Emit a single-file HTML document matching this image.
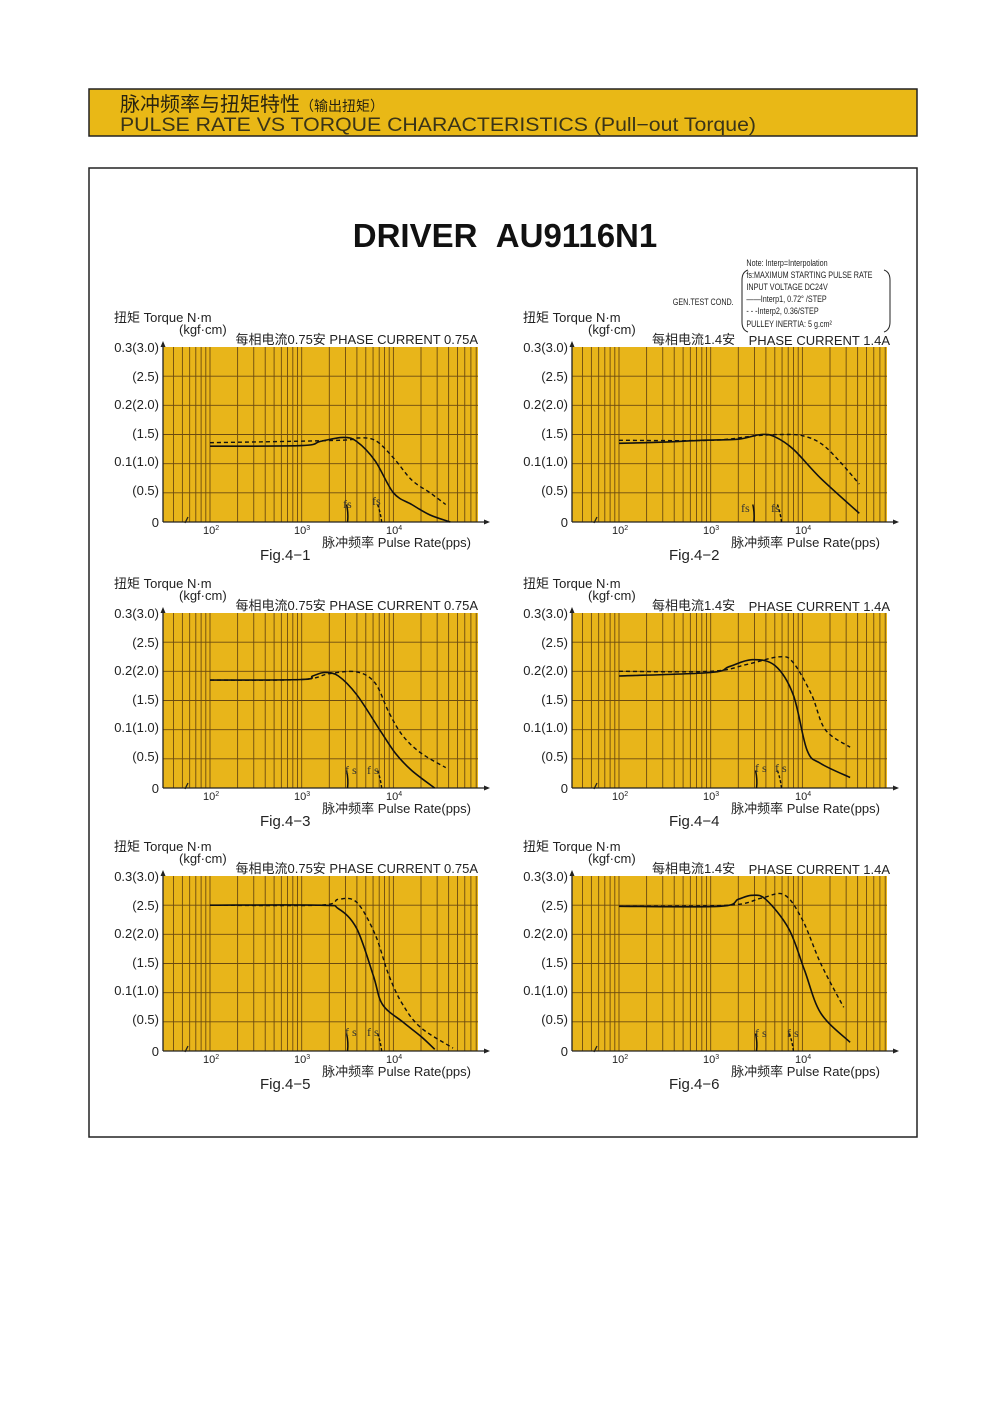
<!DOCTYPE html>
<html><head><meta charset="utf-8"><style>
html,body{margin:0;padding:0;background:#fff;}
svg{display:block;font-family:"Liberation Sans","Noto Sans CJK SC",sans-serif;}
</style></head><body>
<svg id="s" width="1000" height="1414" viewBox="0 0 1000 1414" xmlns="http://www.w3.org/2000/svg">
<rect x="89" y="89" width="828" height="47" fill="#e9b816" stroke="#222" stroke-width="1.5"/>
<text x="120" y="111" font-size="20" fill="#2a2410">脉冲频率与扭矩特性<tspan font-size="14">（输出扭矩）</tspan></text>
<text x="120" y="131" font-size="19" fill="#3a3418" textLength="636" lengthAdjust="spacingAndGlyphs">PULSE RATE VS TORQUE CHARACTERISTICS (Pull−out Torque)</text>
<rect x="89" y="168" width="828" height="969" fill="none" stroke="#222" stroke-width="1.5"/>
<text x="505" y="247" font-size="33" font-weight="bold" text-anchor="middle" fill="#111">DRIVER&#160;&#160;AU9116N1</text>
<g font-size="9" fill="#222" transform="scale(0.8,1)">
<text x="933" y="266">Note: Interp=Interpolation</text>
<text x="933" y="278">fs:MAXIMUM STARTING PULSE RATE</text>
<text x="933" y="290">INPUT VOLTAGE DC24V</text>
<text x="933" y="302">——Interp1, 0.72°  /STEP</text>
<text x="933" y="314">- - -Interp2, 0.36/STEP</text>
<text x="933" y="327">PULLEY INERTIA: 5  g.cm²</text>
<text x="841" y="305">GEN.TEST COND.</text>
</g>
<path d="M748,270 Q742,272 742,280 L742,322 Q742,330 748,332" fill="none" stroke="#222"/>
<path d="M884,270 Q890,272 890,280 L890,322 Q890,330 884,332" fill="none" stroke="#222"/>
<g id="charts"></g>
<g font-size="13" fill="#222">
<g transform="translate(0,0)">
<text x="114" y="322">扭矩 Torque N·m</text>
<text x="179" y="334">(kgf·cm)</text>
<text x="478" y="344" text-anchor="end">每相电流0.75安  PHASE CURRENT 0.75A</text>
<g text-anchor="end"><text x="159" y="352">0.3(3.0)</text><text x="159" y="381">(2.5)</text><text x="159" y="409">0.2(2.0)</text><text x="159" y="438">(1.5)</text><text x="159" y="466">0.1(1.0)</text><text x="159" y="495">(0.5)</text><text x="159" y="527">0</text></g>
<text x="203" y="534" font-size="11">10<tspan font-size="7" dy="-4">2</tspan></text><text x="294" y="534" font-size="11">10<tspan font-size="7" dy="-4">3</tspan></text><text x="386" y="534" font-size="11">10<tspan font-size="7" dy="-4">4</tspan></text>
<text x="471" y="547" text-anchor="end">脉冲频率 Pulse Rate(pps)</text>
<text x="260" y="560" font-size="15">Fig.4−1</text>
</g>
<g transform="translate(409,0)">
<text x="114" y="322">扭矩 Torque N·m</text><text x="179" y="334">(kgf·cm)</text>
<text x="243" y="344">每相电流1.4安</text><text x="481" y="345" text-anchor="end">PHASE CURRENT 1.4A</text>
<g text-anchor="end"><text x="159" y="352">0.3(3.0)</text><text x="159" y="381">(2.5)</text><text x="159" y="409">0.2(2.0)</text><text x="159" y="438">(1.5)</text><text x="159" y="466">0.1(1.0)</text><text x="159" y="495">(0.5)</text><text x="159" y="527">0</text></g>
<text x="203" y="534" font-size="11">10<tspan font-size="7" dy="-4">2</tspan></text><text x="294" y="534" font-size="11">10<tspan font-size="7" dy="-4">3</tspan></text><text x="386" y="534" font-size="11">10<tspan font-size="7" dy="-4">4</tspan></text>
<text x="471" y="547" text-anchor="end">脉冲频率 Pulse Rate(pps)</text>
<text x="260" y="560" font-size="15">Fig.4−2</text>
</g>
<g transform="translate(0,266)">
<text x="114" y="322">扭矩 Torque N·m</text><text x="179" y="334">(kgf·cm)</text>
<text x="478" y="344" text-anchor="end">每相电流0.75安  PHASE CURRENT 0.75A</text>
<g text-anchor="end"><text x="159" y="352">0.3(3.0)</text><text x="159" y="381">(2.5)</text><text x="159" y="409">0.2(2.0)</text><text x="159" y="438">(1.5)</text><text x="159" y="466">0.1(1.0)</text><text x="159" y="495">(0.5)</text><text x="159" y="527">0</text></g>
<text x="203" y="534" font-size="11">10<tspan font-size="7" dy="-4">2</tspan></text><text x="294" y="534" font-size="11">10<tspan font-size="7" dy="-4">3</tspan></text><text x="386" y="534" font-size="11">10<tspan font-size="7" dy="-4">4</tspan></text>
<text x="471" y="547" text-anchor="end">脉冲频率 Pulse Rate(pps)</text>
<text x="260" y="560" font-size="15">Fig.4−3</text>
</g>
<g transform="translate(409,266)">
<text x="114" y="322">扭矩 Torque N·m</text><text x="179" y="334">(kgf·cm)</text>
<text x="243" y="344">每相电流1.4安</text><text x="481" y="345" text-anchor="end">PHASE CURRENT 1.4A</text>
<g text-anchor="end"><text x="159" y="352">0.3(3.0)</text><text x="159" y="381">(2.5)</text><text x="159" y="409">0.2(2.0)</text><text x="159" y="438">(1.5)</text><text x="159" y="466">0.1(1.0)</text><text x="159" y="495">(0.5)</text><text x="159" y="527">0</text></g>
<text x="203" y="534" font-size="11">10<tspan font-size="7" dy="-4">2</tspan></text><text x="294" y="534" font-size="11">10<tspan font-size="7" dy="-4">3</tspan></text><text x="386" y="534" font-size="11">10<tspan font-size="7" dy="-4">4</tspan></text>
<text x="471" y="547" text-anchor="end">脉冲频率 Pulse Rate(pps)</text>
<text x="260" y="560" font-size="15">Fig.4−4</text>
</g>
<g transform="translate(0,529)">
<text x="114" y="322">扭矩 Torque N·m</text><text x="179" y="334">(kgf·cm)</text>
<text x="478" y="344" text-anchor="end">每相电流0.75安  PHASE CURRENT 0.75A</text>
<g text-anchor="end"><text x="159" y="352">0.3(3.0)</text><text x="159" y="381">(2.5)</text><text x="159" y="409">0.2(2.0)</text><text x="159" y="438">(1.5)</text><text x="159" y="466">0.1(1.0)</text><text x="159" y="495">(0.5)</text><text x="159" y="527">0</text></g>
<text x="203" y="534" font-size="11">10<tspan font-size="7" dy="-4">2</tspan></text><text x="294" y="534" font-size="11">10<tspan font-size="7" dy="-4">3</tspan></text><text x="386" y="534" font-size="11">10<tspan font-size="7" dy="-4">4</tspan></text>
<text x="471" y="547" text-anchor="end">脉冲频率 Pulse Rate(pps)</text>
<text x="260" y="560" font-size="15">Fig.4−5</text>
</g>
<g transform="translate(409,529)">
<text x="114" y="322">扭矩 Torque N·m</text><text x="179" y="334">(kgf·cm)</text>
<text x="243" y="344">每相电流1.4安</text><text x="481" y="345" text-anchor="end">PHASE CURRENT 1.4A</text>
<g text-anchor="end"><text x="159" y="352">0.3(3.0)</text><text x="159" y="381">(2.5)</text><text x="159" y="409">0.2(2.0)</text><text x="159" y="438">(1.5)</text><text x="159" y="466">0.1(1.0)</text><text x="159" y="495">(0.5)</text><text x="159" y="527">0</text></g>
<text x="203" y="534" font-size="11">10<tspan font-size="7" dy="-4">2</tspan></text><text x="294" y="534" font-size="11">10<tspan font-size="7" dy="-4">3</tspan></text><text x="386" y="534" font-size="11">10<tspan font-size="7" dy="-4">4</tspan></text>
<text x="471" y="547" text-anchor="end">脉冲频率 Pulse Rate(pps)</text>
<text x="260" y="560" font-size="15">Fig.4−6</text>
</g>
</g>
<g font-size="12" fill="#333" font-family="Liberation Serif, serif">
<text x="343" y="508">fs</text><text x="372" y="505">fs</text>
<text x="741" y="512">fs</text><text x="771" y="512">fs</text>
<text x="345" y="774">f s</text><text x="367" y="774">f s</text>
<text x="755" y="772">f s</text><text x="775" y="772">f s</text>
<text x="345" y="1036">f s</text><text x="367" y="1036">f s</text>
<text x="755" y="1037">f s</text><text x="787" y="1037">f s</text>
</g>
</svg>
<script>
(function(){
var NS="http://www.w3.org/2000/svg",g=document.getElementById("charts");
function el(n,a){var e=document.createElementNS(NS,n);for(var k in a)e.setAttribute(k,a[k]);g.appendChild(e);return e;}
var charts=[
{ox:0,oy:0,fs:[3.5,3.85],
s:[[2,1.3],[3,1.31],[3.2,1.38],[3.45,1.45],[3.6,1.38],[3.8,1.05],[4,0.5],[4.2,0.3],[4.4,0.12],[4.62,0]],
d:[[2,1.36],[3.4,1.4],[3.6,1.44],[3.8,1.4],[4,1.1],[4.2,0.72],[4.4,0.5],[4.57,0.3]]},
{ox:409,oy:0,fs:[3.47,3.75],
s:[[2,1.35],[2.5,1.37],[2.9,1.4],[3.3,1.42],[3.55,1.5],[3.7,1.46],[3.9,1.25],[4.2,0.75],[4.62,0.15]],
d:[[2,1.4],[3,1.4],[3.5,1.48],[3.8,1.5],[4,1.48],[4.2,1.35],[4.4,1.05],[4.62,0.65]]},
{ox:0,oy:266,fs:[3.5,3.85],
s:[[2,1.85],[3,1.86],[3.12,1.92],[3.25,1.98],[3.4,1.92],[3.6,1.6],[3.85,1.0],[4.02,0.6],[4.2,0.3],[4.45,0]],
d:[[2,1.85],[3,1.86],[3.3,1.96],[3.6,1.99],[3.8,1.8],[3.95,1.3],[4.1,0.9],[4.3,0.6],[4.57,0.35]]},
{ox:409,oy:266,fs:[3.5,3.75],
s:[[2,1.92],[3,1.98],[3.2,2.08],[3.45,2.2],[3.7,2.1],[3.9,1.6],[4.05,0.65],[4.2,0.42],[4.52,0.18]],
d:[[2,2.0],[3,2.0],[3.4,2.12],[3.75,2.25],[3.9,2.15],[4.1,1.6],[4.25,1.0],[4.52,0.7]]},
{ox:0,oy:529,fs:[3.5,3.85],
s:[[2,2.5],[3.2,2.5],[3.4,2.44],[3.6,2.1],[3.78,1.3],[3.88,0.8],[4.1,0.5],[4.3,0.25],[4.45,0.03]],
d:[[2,2.5],[3.2,2.5],[3.4,2.6],[3.6,2.55],[3.8,2.0],[3.95,1.3],[4.1,0.8],[4.3,0.4],[4.65,0.05]]},
{ox:409,oy:529,fs:[3.5,3.88],
s:[[2,2.48],[3.1,2.48],[3.3,2.6],[3.45,2.67],[3.6,2.6],[3.85,2.1],[4.02,1.4],[4.2,0.65],[4.52,0.15]],
d:[[2,2.48],[3.2,2.5],[3.55,2.62],[3.8,2.68],[4.0,2.25],[4.2,1.5],[4.45,0.75]]}
];
function smooth(P){var s="M"+P[0][0].toFixed(1)+","+P[0][1].toFixed(1);
 for(var i=0;i<P.length-1;i++){var p0=P[i-1]||P[i],p1=P[i],p2=P[i+1],p3=P[i+2]||p2;
  var c1x=p1[0]+(p2[0]-p0[0])/6,c1y=p1[1]+(p2[1]-p0[1])/6,c2x=p2[0]-(p3[0]-p1[0])/6,c2y=p2[1]-(p3[1]-p1[1])/6;
  s+=" C"+c1x.toFixed(1)+","+c1y.toFixed(1)+" "+c2x.toFixed(1)+","+c2y.toFixed(1)+" "+p2[0].toFixed(1)+","+p2[1].toFixed(1);}
 return s;}
charts.forEach(function(c){
 var L=163+c.ox,R=478+c.ox,T=347+c.oy,B=522+c.oy;
 var X=function(l){return 210+c.ox+(l-2)*91.7;},Y=function(v){return B-v*(B-T)/3;};
 el("rect",{x:L,y:T,width:R-L,height:B-T,fill:"#e8b51a"});
 for(var d=1;d<=4;d++)for(var k=1;k<=9;k++){var x=X(d+Math.log10(k));if(x>L+5&&x<R)el("line",{x1:x,y1:T,x2:x,y2:B,stroke:"#6b4a10","stroke-width":0.9});}
 for(var i=1;i<6;i++){var y=Y(i*0.5);el("line",{x1:L,y1:y,x2:R,y2:y,stroke:"#6b4a10","stroke-width":0.9});}
 el("line",{x1:L,y1:B,x2:R+10,y2:B,stroke:"#222","stroke-width":1.3});
 el("path",{d:"M"+(R+12)+","+B+" l-6,-2.5 v5z",fill:"#222"});
 el("line",{x1:L,y1:B,x2:L,y2:T-4,stroke:"#222","stroke-width":1.3});
 el("path",{d:"M"+L+","+(T-6)+" l-2.5,6 h5z",fill:"#222"});
 el("line",{x1:L+22,y1:B+1,x2:L+25,y2:B-5,stroke:"#222","stroke-width":1.3});
 function pts(a){return a.map(function(p){return [X(p[0]),Y(p[1])];});}
 el("path",{d:smooth(pts(c.s)),fill:"none",stroke:"#111","stroke-width":1.6});
 el("path",{d:smooth(pts(c.d)),fill:"none",stroke:"#111","stroke-width":1.4,"stroke-dasharray":"4,3"});
 el("path",{d:"M"+(X(c.fs[0])-1)+","+Y(0.3)+" Q"+(X(c.fs[0])+1)+","+Y(0.15)+" "+X(c.fs[0])+","+B,fill:"none",stroke:"#111","stroke-width":1.5});
 el("path",{d:"M"+(X(c.fs[1])-2)+","+Y(0.3)+" Q"+(X(c.fs[1])+1)+","+Y(0.15)+" "+(X(c.fs[1])+2)+","+B,fill:"none",stroke:"#111","stroke-width":1.4,"stroke-dasharray":"3,2"});
});
})();
</script>
</body></html>
